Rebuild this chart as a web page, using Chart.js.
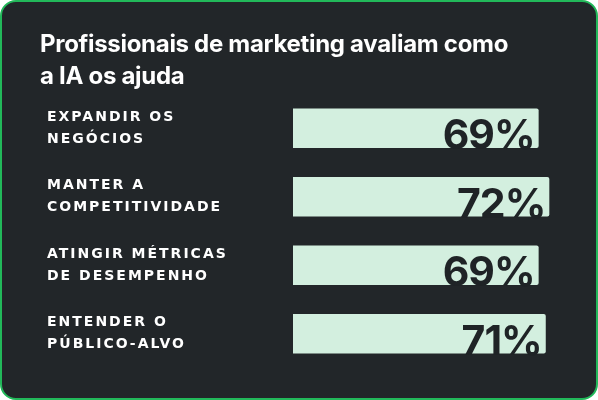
<!DOCTYPE html>
<html><head><meta charset="utf-8">
<script src="https://cdn.jsdelivr.net/npm/chart.js@4"></script>
<style>
html,body{margin:0;padding:0;background:#fff;}
#wrap{position:relative;width:594px;height:396px;border:2px solid #22b85a;border-radius:16px;background:#222629;overflow:hidden;}
canvas{position:absolute;left:0;top:0;}
</style></head><body>
<div id="wrap"><canvas id="c" width="594" height="396"></canvas></div>
<script>
const titleLines = ['Profissionais de marketing avaliam como', 'a IA os ajuda'];
const categories = [
  ['EXPANDIR OS', 'NEGÓCIOS'],
  ['MANTER A', 'COMPETITIVIDADE'],
  ['ATINGIR MÉTRICAS', 'DE DESEMPENHO'],
  ['ENTENDER O', 'PÚBLICO-ALVO']
];
const values = [69, 72, 69, 71];

const overlay = {
  id:'overlay',
  afterDatasetsDraw(chart){
    const ctx = chart.ctx, y = chart.scales.y;
    ctx.save();
    ctx.fillStyle = '#ffffff';
    ctx.font = 'bold 24px Inter, "Noto Sans", sans-serif';
    ctx.letterSpacing = '-0.3px';
    ctx.textBaseline = 'alphabetic';
    ctx.fillText(titleLines[0], 38, 50);
    ctx.fillText(titleLines[1], 38, 82);
    ctx.font = 'bold 14px "DejaVu Sans", sans-serif';
    ctx.letterSpacing = '2px';
    ctx.textBaseline = 'middle';
    categories.forEach((lines, i) => {
      const cy = y.getPixelForValue(i);
      ctx.fillText(lines[0], 45, cy - 11);
      ctx.fillText(lines[1], 45, cy + 11);
    });
    ctx.letterSpacing = '-1px';
    ctx.font = 'bold 41px Inter, "Noto Sans", sans-serif';
    ctx.fillStyle = '#1f2326';
    ctx.textAlign = 'right';
    ctx.textBaseline = 'alphabetic';
    chart.getDatasetMeta(0).data.forEach((bar, i) => {
      ctx.fillText(values[i] + '%', bar.x - 4, bar.y + bar.height / 2 + 1);
    });
    ctx.restore();
  }
};

new Chart(document.getElementById('c'), {
  type:'bar',
  data:{ labels: categories.map(c => c.join(' ')), datasets:[{ data: values, backgroundColor:'#d3efdf', borderRadius:2, barPercentage:0.58, categoryPercentage:1 }]},
  options:{
    indexAxis:'y', responsive:false, animation:false,
    layout:{ padding:{ left:291, right:36, top:92, bottom:30 } },
    plugins:{ legend:{display:false}, tooltip:{enabled:false} },
    scales:{ x:{ display:false, min:0, max:75 }, y:{ display:false } }
  },
  plugins:[overlay]
});
</script>
</body></html>
